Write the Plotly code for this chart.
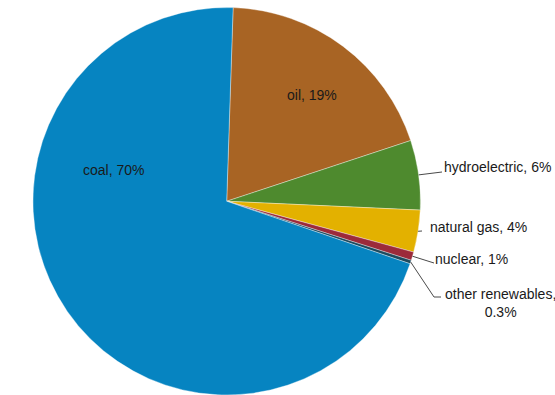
import math
import plotly.graph_objects as go

labels = ["oil", "hydroelectric", "natural gas", "nuclear", "other renewables", "coal"]
values = [19.4, 5.8, 3.5, 0.7, 0.3, 70.3]
label_text = ["oil, 19%", "hydroelectric, 6%", "natural gas, 4%", "nuclear, 1%",
              "other renewables,<br>0.3%", "coal, 70%"]
colors = ["#A86424", "#4E8A2E", "#E3B100", "#9C2A3A", "#1E4A5E", "#0684C1"]

W, H = 555, 395
cx, R = 226.7, 193.75
top = 7.5
cy = (top + H) / 2
rotation = 1.9

fig = go.Figure(go.Pie(
    labels=labels, values=values, sort=False, direction="clockwise",
    rotation=rotation, textinfo="none", hoverinfo="label+value",
    marker=dict(colors=colors, line=dict(color="rgba(255,255,255,0.6)", width=0.6)),
    domain=dict(x=[(cx - R) / W, (cx + R) / W], y=[0, 1 - top / H]),
    showlegend=False,
))

def px(x):
    return x / W

def py(y):
    return 1 - y / H

total = sum(values)
angles = []
a = rotation
for v in values:
    span = v / total * 360
    angles.append(a + span / 2)
    a += span

def edge(i):
    t = math.radians(angles[i])
    return cx + R * math.sin(t), cy - R * math.cos(t)

font = dict(family="Liberation Sans, Arial, sans-serif", size=14, color="#1a1a1a")
annotations = []
shapes = []

# inside labels
inside = {0: (312, 95), 5: (113, 170)}
for i, (lx, ly) in inside.items():
    annotations.append(dict(x=px(lx), y=py(ly), xref="paper", yref="paper",
                            text=label_text[i], showarrow=False, font=font,
                            xanchor="center", yanchor="middle"))

# outside labels: (elbow point, end point, text x, text y)
outside = {
    1: (None, (442, 172), 442, 167),
    2: (None, (422, 231), 428, 227),
    3: (None, (434, 263), 433, 259),
    4: ((434, 297), (441, 297), 443, 303),
}
for i, (elbow, end, tx, ty) in outside.items():
    sx, sy = edge(i)
    pts = [(sx, sy)]
    if elbow:
        pts.append(elbow)
    pts.append(end)
    path = "M " + " L ".join(f"{px(x)},{py(y)}" for x, y in pts)
    shapes.append(dict(type="path", xref="paper", yref="paper", path=path,
                       line=dict(color="#4a4a4a", width=1)))
    annotations.append(dict(x=px(tx), y=py(ty), xref="paper", yref="paper",
                            text=label_text[i], showarrow=False, font=font,
                            xanchor="left", yanchor="middle", align="center"))

fig.update_layout(
    width=W, height=H, margin=dict(l=0, r=0, t=0, b=0),
    paper_bgcolor="white", plot_bgcolor="white",
    annotations=annotations, shapes=shapes,
)

fig.write_html("out.html")
